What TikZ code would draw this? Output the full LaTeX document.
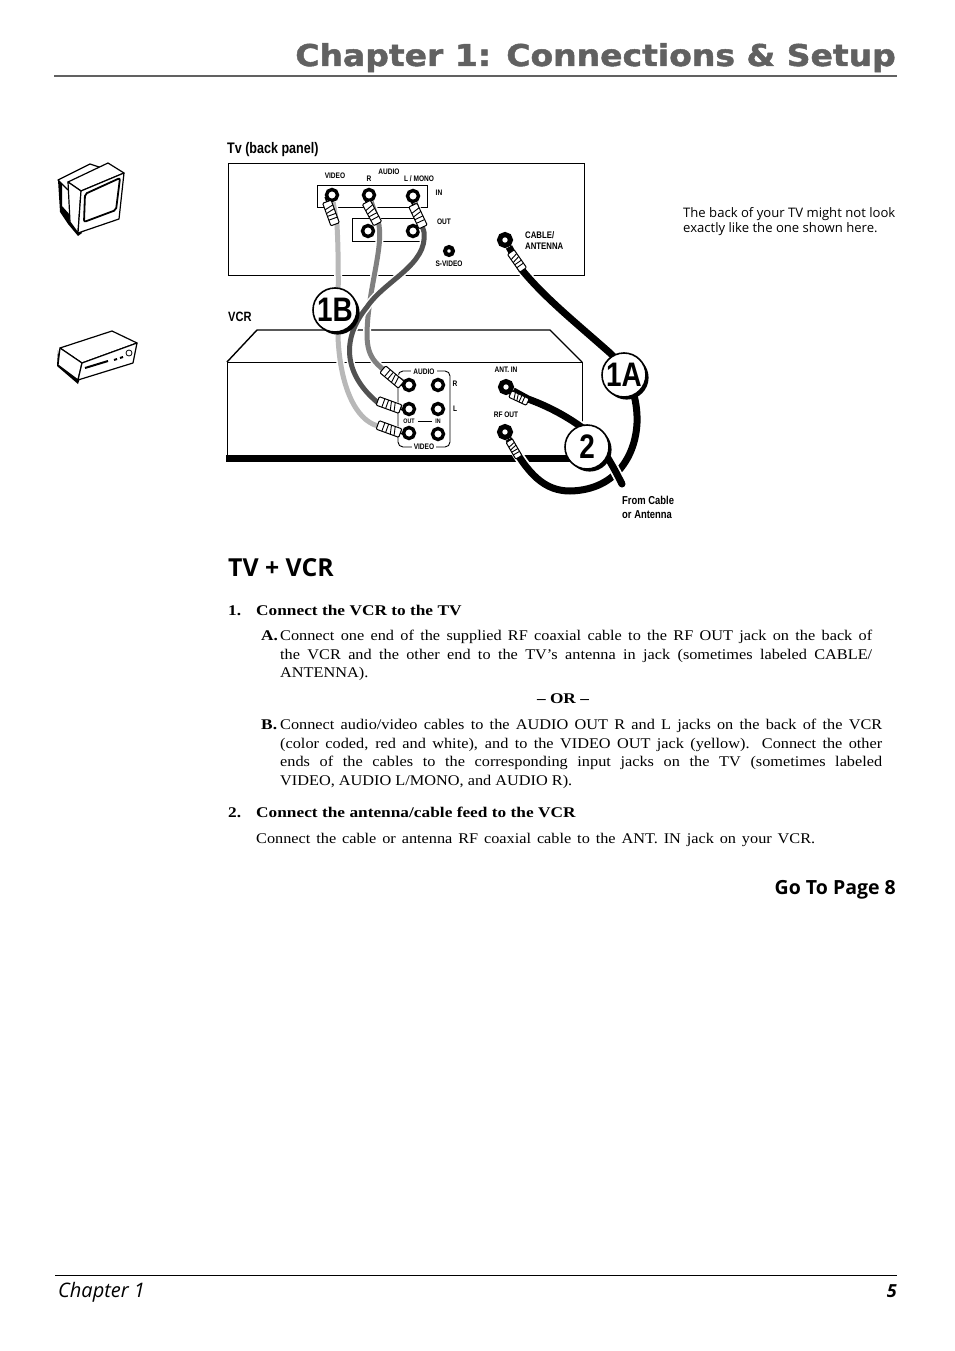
\documentclass[tikz,border=0pt]{standalone}
\usepackage{fontspec}
\usepackage{tikz}
\usetikzlibrary{shadows}
\setmainfont[FakeStretch=1.1]{Liberation Serif}
\setsansfont{Liberation Sans}
\newfontfamily\boldserif[FakeStretch=1.17]{Liberation Serif}
\newfontfamily\condfont[FakeStretch=0.82]{Liberation Sans}
\newfontfamily\titlefont[FakeStretch=1.1,FakeBold=1.6]{DejaVu Sans}
\newfontfamily\notefont{Open Sans}

\begin{document}
\begin{tikzpicture}[
      x=1pt, y=-1pt,
      tag/.style={font=\condfont\bfseries\fontsize{8}{9.6}\selectfont, inner sep=0pt, align=left},
      head/.style={font=\condfont\bfseries\fontsize{15.3}{16}\selectfont, inner sep=0pt, anchor=base west},
      body/.style={font=\fontsize{14.8}{18.5}\selectfont, inner sep=0pt, anchor=north west, align=justify},
      step head/.style={font=\boldserif\bfseries\fontsize{14.8}{18.5}\selectfont, inner sep=0pt, anchor=base west},
      jack/.style={circle, draw=black, line width=3.4pt, fill=white, minimum size=11pt, inner sep=0pt,
        path picture={\fill (path picture bounding box.center) circle (1.6pt);}},
      coax jack/.style={jack, line width=5pt, minimum size=11pt},
      cable/.style={line width=5pt, preaction={draw=white, line width=8pt}},
      coax/.style={line width=7pt, black, preaction={draw=white, line width=10.5pt}},
      badge/.style={circle, draw, line width=1.6pt, fill=white, minimum size=44pt, inner sep=0pt,
        font=\condfont\bfseries\fontsize{34}{34}\selectfont,
        general shadow={fill=black, shadow xshift=2.6pt, shadow yshift=-2.6pt}},
      rca/.pic={
        \draw[fill=white, line width=1pt, rounded corners=1pt] (-12,-4.5) rectangle (12,4.5);
        \draw[line width=0.9pt] (-7,-4.5) -- (-5,4.5) (-3,-4.5) -- (-1,4.5) (2,-4.5) -- (2,4.5) (6,-4.5) -- (6,4.5);
        \draw[line width=1.5pt] (-12,0) -- (-17,0);
      },
      icon/.style={line width=1.2pt, line join=round, fill=white}
    ]
    \useasboundingbox (0,0) rectangle (954,1351);

    % page header and footer
    \node[font=\titlefont\bfseries\fontsize{30}{30}\selectfont, text=black!62, inner sep=0pt, anchor=base east] (title) at (896,66) {Chapter 1: Connections \& Setup};
    \draw[black!62, line width=1.8pt] (54,76) -- (897,76);
    \draw[line width=0.7pt] (55,1275) -- (897,1275);
    \node[font=\notefont\itshape\fontsize{20}{22}\selectfont, inner sep=0pt, anchor=base west] (foot) at (58,1297) {Chapter 1};
    \node[font=\notefont\bfseries\itshape\fontsize{18}{20}\selectfont, inner sep=0pt, anchor=base east] (page) at (897,1297) {5};

    % tv icon
    \fill (58,180) -- (60,212) -- (68,224) -- (78,236) -- (82,233) -- (70,215) -- (62,206) -- (62,182) -- cycle;
    \draw[icon] (58,180) -- (90,164) -- (108,170) -- (68,190) -- cycle;
    \draw[icon] (68,182) -- (108,163) -- (124,173) -- (81,191) -- cycle;
    \draw[icon] (68,182) -- (81,191) -- (78,233) -- (70,222) -- cycle;
    \draw[icon] (81,191) -- (124,173) -- (119,219) -- (78,233) -- cycle;
    \draw[line width=1.8pt, fill=white, rounded corners=2pt] (85,194) -- (120,178) -- (116,210) -- (84,222) -- cycle;

    % vcr icon
    \fill (58,350) -- (57,366) -- (78,384) -- (80,378) -- (60,362) -- cycle;
    \draw[icon] (60,348) -- (112,331) -- (137,343) -- (82,363) -- cycle;
    \draw[icon] (60,348) -- (82,363) -- (78,380) -- (58,365) -- cycle;
    \draw[icon] (82,363) -- (137,343) -- (133,363) -- (78,380) -- cycle;
    \draw[line width=2pt] (85,368) -- (108,361) (114,360) -- (117,359) (120,358) -- (123,357);
    \draw[line width=0.8pt] (129,353) circle (3);

    \node[head] (tv_head) at (227,154) {Tv (back panel)};
    \node[head, font=\condfont\bfseries\fontsize{13.5}{15}\selectfont] (vcr_head) at (228,321) {VCR};

    % tv back panel
    \draw[line width=1pt] (228,164) rectangle (584,275);
    \draw[line width=0.9pt] (317,185) rectangle (427,207);
    \draw[line width=0.9pt] (352,218) rectangle (423,241);
    \node[tag] (t_video) at (335,176) {VIDEO};
    \node[tag] (t_audio) at (389,172) {AUDIO};
    \node[tag] (t_r) at (369,179) {R};
    \node[tag] (t_mono) at (419,179) {L / MONO};
    \node[tag] (t_in) at (439,193) {IN};
    \node[tag] (t_out) at (444,222) {OUT};
    \node[tag] (t_svideo) at (449,264) {S-VIDEO};
    \node[tag, anchor=west, font=\condfont\bfseries\fontsize{9.5}{11}\selectfont] (t_cable) at (525,241) {CABLE/\\ANTENNA};
    \node[jack] (tv_video) at (332,195) {};
    \node[jack] (tv_r) at (369,195) {};
    \node[jack] (tv_l) at (413,196) {};
    \node[jack] (tv_outr) at (368,231) {};
    \node[jack] (tv_outl) at (413,231) {};
    \node[jack, minimum size=8pt, line width=4pt] (tv_svideo) at (449,251) {};
    \node[coax jack] (tv_ant) at (505,240) {};

    % vcr back panel
    \draw[line width=1.4pt] (227,362) -- (257,330) -- (550,330) -- (582,362);
    \draw[line width=1pt] (227,455) -- (227,362) -- (582,362) -- (582,455);
    \fill (226,455) rectangle (583,462);
    \draw[line width=0.9pt, rounded corners=5pt] (398,371) rectangle (450,447);
    \node[tag, fill=white, inner xsep=2pt] (v_audio) at (424,372) {AUDIO};
    \node[tag, fill=white, inner xsep=2pt] (v_video) at (424,447) {VIDEO};
    \node[tag] (v_r) at (455,384) {R};
    \node[tag] (v_l) at (455,409) {L};
    \node[tag, font=\condfont\bfseries\fontsize{6.5}{8}\selectfont] (v_out) at (409,421) {OUT};
    \node[tag, font=\condfont\bfseries\fontsize{6.5}{8}\selectfont] (v_in) at (438,421) {IN};
    \draw[line width=0.7pt, shorten >=3pt, shorten <=3pt] (v_out) -- (v_in);
    \node[tag] (v_ant) at (506,370) {ANT. IN};
    \node[tag] (v_rf) at (506,415) {RF OUT};
    \node[jack] (vcr_r) at (409,385) {};
    \node[jack] (vcr_ri) at (438,385) {};
    \node[jack] (vcr_l) at (409,409) {};
    \node[jack] (vcr_li) at (438,409) {};
    \node[jack] (vcr_v) at (409,433) {};
    \node[jack] (vcr_vi) at (438,434) {};
    \node[coax jack] (vcr_ant) at (506,387) {};
    \node[coax jack] (vcr_rfout) at (505,432) {};
    \coordinate (feed) at (622,484);

    % cables
    \draw[cable, black!28] (tv_video) -- (337,225) .. controls (339,260) and (338,300) .. (338,337) .. controls (340,385) and (355,420) .. (378,426) -- (vcr_v);
    \draw[cable, black!50] (tv_r) -- (379,225) .. controls (383,250) and (368,290) .. (367,333) .. controls (367,355) and (372,365) .. (vcr_r);
    \draw[cable, black!68] (tv_l) -- (424,232) .. controls (428,265) and (385,280) .. (367,307) .. controls (340,340) and (345,375) .. (377,402) -- (vcr_l);
    \draw[coax] (tv_ant) -- (522,270) .. controls (545,298) and (575,322) .. (610,353) .. controls (630,372) and (638,400) .. (637,423) .. controls (636,450) and (620,490) .. (570,491) .. controls (545,491) and (528,475) .. (vcr_rfout);
    \draw[coax] (vcr_ant) -- (528,399) .. controls (550,407) and (570,418) .. (588,432) .. controls (600,444) and (610,460) .. (feed);
    \fill (feed) circle (3.5);

    % plugs
    \pic[rotate=-70] at (331,213) {rca};
    \pic[rotate=-62] at (372,213) {rca};
    \pic[rotate=-65] at (418,216) {rca};
    \pic[rotate=140] at (392,377) {rca};
    \pic[rotate=160] at (389,405) {rca};
    \pic[rotate=160] at (389,429) {rca};
    \pic[rotate=-55, scale=0.9] at (517,261) {rca};
    \pic[rotate=-25, scale=0.8] at (519,398) {rca};
    \pic[rotate=-60, scale=0.8] at (514,449) {rca};

    % badges
    \node[badge] (b1b) at (335,310) {1B};
    \node[badge] (b1a) at (624,375) {1A};
    \node[badge] (b2) at (587,447) {2};

    \node[tag, anchor=base west, font=\condfont\bfseries\fontsize{11.5}{13}\selectfont] (from1) at (622,504) {From Cable};
    \node[tag, anchor=base west, font=\condfont\bfseries\fontsize{11.5}{13}\selectfont] (from2) at (622,518) {or Antenna};
    \node[font=\notefont\fontsize{13.1}{15}\selectfont, inner sep=0pt, anchor=north west, align=left] (note) at (683,207) {The back of your TV might not look\\exactly like the one shown here.};

    % instructions
    \node[font=\notefont\bfseries\fontsize{24.8}{28}\selectfont, inner sep=0pt, anchor=base west] (sec) at (228,576) {TV + VCR};
    \node[step head] (n1) at (228,615) {1.};
    \node[step head] (s1) at (256,615) {Connect the VCR to the TV};
    \node[step head] (la) at (261,640) {A.};
    \node[body, text width=592pt] (pa) at (280,630) {Connect one end of the supplied RF coaxial cable to the RF OUT jack on the back of\linebreak the VCR and the other end to the TV’s antenna in jack (sometimes labeled CABLE/\linebreak ANTENNA).};
    \node[step head, anchor=base] (or) at (563,703) {– OR –};
    \node[step head] (lb) at (261,729) {B.};
    \node[body, text width=602pt] (pb) at (280,719) {Connect audio/video cables to the AUDIO OUT R and L jacks on the back of the VCR\linebreak (color coded, red and white), and to the VIDEO OUT jack (yellow). Connect the other\linebreak ends of the cables to the corresponding input jacks on the TV (sometimes labeled\linebreak VIDEO, AUDIO L/MONO, and AUDIO R).};
    \node[step head] (n2) at (228,817) {2.};
    \node[step head] (s2) at (256,817) {Connect the antenna/cable feed to the VCR};
    \node[body, text width=559pt, anchor=base west] (p2) at (256,843) {Connect the cable or antenna RF coaxial cable to the ANT. IN jack on your VCR.\linebreak};
    \node[font=\notefont\bfseries\fontsize{19.5}{22}\selectfont, inner sep=0pt, anchor=base east] (go) at (896,894) {Go To Page 8};
  \end{tikzpicture}
\end{document}
